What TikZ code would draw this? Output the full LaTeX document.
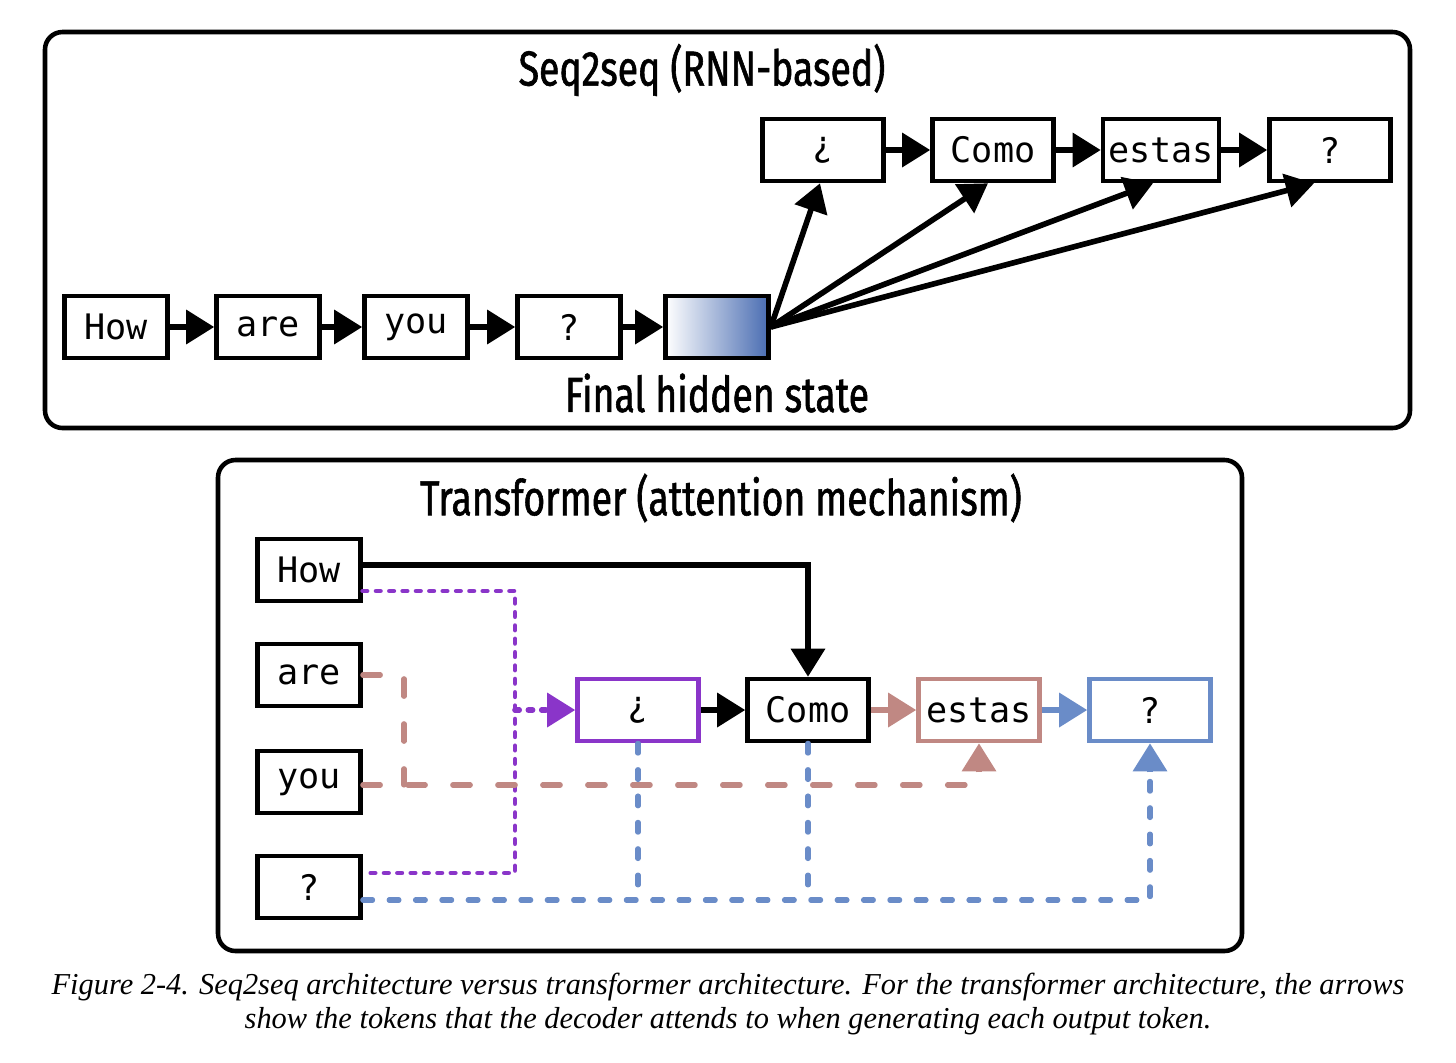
\documentclass[tikz,border=0pt]{standalone}
\usepackage{fontspec}
\setmainfont{Liberation Serif}
\setmonofont{DejaVu Sans Mono}
\newfontfamily\headfont[FakeStretch=0.76, FakeBold=1.2]{Fira Sans}
\usetikzlibrary{arrows.meta}

\definecolor{attpurple}{HTML}{8A35C9}
\definecolor{attrose}{HTML}{C08883}
\definecolor{attblue}{HTML}{6A8CC8}
\definecolor{hidblue}{HTML}{4A6DB2}

\tikzset{
  tok/.style={draw, line width=2.6pt, inner sep=0pt, minimum width=2.06cm,
    minimum height=1.24cm, font=\ttfamily\fontsize{20}{24}\selectfont},
  widebox/.style={minimum width=2.42cm},
  flow/.style={line width=3.2pt, -{Triangle[length=16pt,width=19pt]}},
  head/.style={font=\headfont\fontsize{28}{32}\selectfont},
  panel/.style={line width=2.6pt, rounded corners=0.35cm},
  purpdots/.style={attpurple, line width=2.8pt, line cap=round, dash pattern=on 2.4pt off 5.2pt},
  rosedash/.style={attrose, line width=2.9pt, line cap=round, dash pattern=on 10pt off 15.6pt},
  bluedash/.style={attblue, line width=2.9pt, line cap=round, dash pattern=on 5.6pt off 9.4pt},
}

\begin{document}
\begin{tikzpicture}[x=0.02cm, y=-0.02cm]
    \useasboundingbox (0,0) rectangle (1456,1062);

    % Seq2seq panel
    \draw[panel] (45,32) rectangle (1410,428);
    \node[head] (rnntitle) at (702,70) {Seq2seq (RNN-based)};

    % Encoder tokens
    \node[tok] (enc1) at (116,327) {How};
    \node[tok] (enc2) at (268,327) {are};
    \node[tok] (enc3) at (416,327) {you};
    \node[tok] (enc4) at (569,327) {?};
    \node[tok, left color=white, right color=hidblue] (hid) at (717,327) {};
    \node[head] (hidlabel) at (717,393) {Final hidden state};

    \draw[flow] (enc1) -- (enc2);
    \draw[flow] (enc2) -- (enc3);
    \draw[flow] (enc3) -- (enc4);
    \draw[flow] (enc4) -- (hid);

    % Decoder tokens
    \node[tok, widebox] (dec1) at (823,150) {¿};
    \node[tok, widebox] (dec2) at (993,150) {Como};
    \node[tok, minimum width=2.32cm] (dec3) at (1161,150) {estas};
    \node[tok, widebox] (dec4) at (1330,150) {?};

    \draw[flow] (dec1) -- (dec2);
    \draw[flow] (dec2) -- (dec3);
    \draw[flow] (dec3) -- (dec4);

    % Hidden state feeds every output
    \draw[flow] (hid.east) -- ([xshift=-0.06cm]dec1.south);
    \draw[flow] (hid.east) -- ([xshift=-0.1cm]dec2.south);
    \draw[flow] (hid.east) -- ([xshift=-0.16cm]dec3.south);
    \draw[flow] (hid.east) -- ([xshift=-0.32cm]dec4.south);

    % Transformer panel
    \draw[panel] (218,460) rectangle (1242,951);
    \node[head] (attitle) at (721,498) {Transformer (attention mechanism)};

    % Source tokens
    \node[tok] (src1) at (309,570) {How};
    \node[tok] (src2) at (309,675) {are};
    \node[tok] (src3) at (309,782) {you};
    \node[tok] (src4) at (309,887) {?};

    % Target tokens
    \node[tok, widebox, draw=attpurple] (tgt1) at (638,710) {¿};
    \node[tok, widebox] (tgt2) at (808,710) {Como};
    \node[tok, widebox, draw=attrose] (tgt3) at (979,710) {estas};
    \node[tok, widebox, draw=attblue] (tgt4) at (1150,710) {?};

    \coordinate (pjoin) at (515,710);
    \coordinate (rjoin) at (404,785);
    \coordinate (bjoin) at (1150,900);

    % Attention for each output
    \draw[purpdots] ([yshift=-0.42cm]src1.east) -| (pjoin) |- ([yshift=0.28cm]src4.east);
    \draw[flow, attpurple, line cap=round, dash pattern=on 2.4pt off 5.2pt] (pjoin) -- (tgt1);
    \draw[flow] ([yshift=0.1cm]src1.east) -| (tgt2.north);
    \draw[flow] (tgt1) -- (tgt2);

    \draw[rosedash] (src2.east) -| (rjoin);
    \draw[rosedash] ([yshift=-0.06cm]src3.east) -| ([yshift=-0.6cm]tgt3.south);
    \draw[flow, attrose] ([yshift=-0.58cm]tgt3.south) -- (tgt3.south);
    \draw[flow, attrose] (tgt2) -- (tgt3);

    \draw[bluedash] ([yshift=-0.26cm]src4.east) -| ([yshift=-0.6cm]tgt4.south);
    \draw[bluedash] (tgt1.south) -- (tgt1.south |- bjoin);
    \draw[bluedash] (tgt2.south) -- (tgt2.south |- bjoin);
    \draw[flow, attblue] ([yshift=-0.58cm]tgt4.south) -- (tgt4.south);
    \draw[flow, attblue] (tgt3) -- (tgt4);

    % Caption
    \node[align=center, font=\itshape\fontsize{17.3}{19.4}\selectfont] (caption) at (728,1004)
      {Figure 2-4. Seq2seq architecture versus transformer architecture. For the transformer architecture, the arrows\\
       show the tokens that the decoder attends to when generating each output token.};
\end{tikzpicture}
\end{document}
